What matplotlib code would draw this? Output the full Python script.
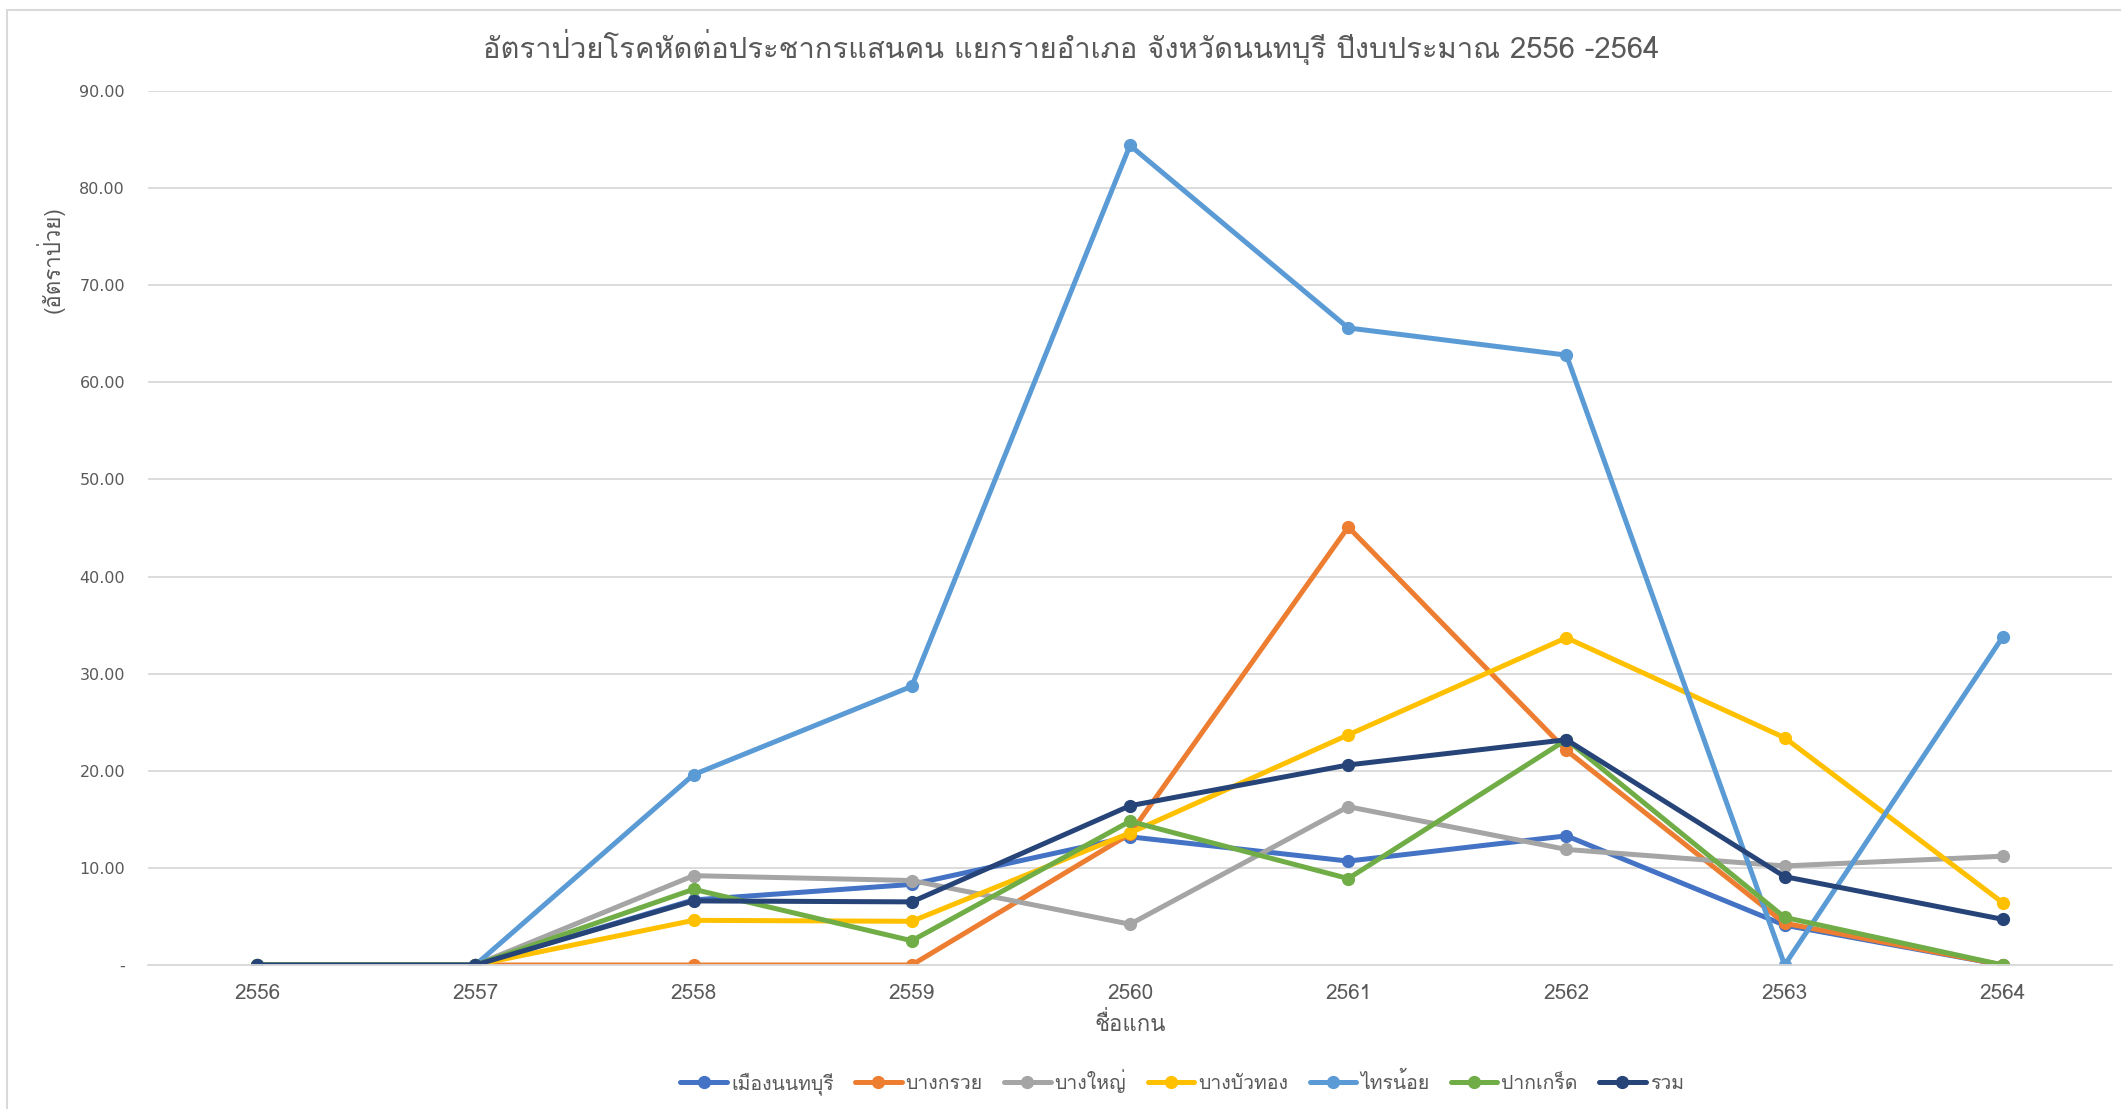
import matplotlib
matplotlib.use("Agg")
import matplotlib.pyplot as plt
from matplotlib import font_manager
from matplotlib.ft2font import FT2Font
from matplotlib.patches import Rectangle

# rates per 100,000 population, fiscal years 2556-2564
years = ["2556", "2557", "2558", "2559", "2560", "2561", "2562", "2563", "2564"]
mueang = [0, 0, 6.7, 8.3, 13.2, 10.7, 13.3, 4.1, 0]
bang_kruai = [0, 0, 0, 0, 13.5, 45.1, 22.1, 4.3, 0]
bang_yai = [0, 0, 9.2, 8.7, 4.2, 16.3, 11.9, 10.2, 11.2]
bang_bua_thong = [0, 0, 4.6, 4.5, 13.6, 23.7, 33.7, 23.4, 6.4]
sai_noi = [0, 0, 19.6, 28.7, 84.4, 65.6, 62.8, 0, 33.8]
pak_kret = [0, 0, 7.8, 2.5, 14.8, 8.9, 23.2, 4.9, 0]
total = [0, 0, 6.6, 6.5, 16.4, 20.6, 23.2, 9.1, 4.7]

names = ["เมืองนนทบุรี", "บางกรวย", "บางใหญ่", "บางบัวทอง", "ไทรน้อย", "ปากเกร็ด", "รวม"]
series = [mueang, bang_kruai, bang_yai, bang_bua_thong, sai_noi, pak_kret, total]
colors = ["#4472C4", "#ED7D31", "#A5A5A5", "#FFC000", "#5B9BD5", "#70AD47", "#264478"]

title = "อัตราป่วยโรคหัดต่อประชากรแสนคน แยกรายอำเภอ จังหวัดนนทบุรี ปีงบประมาณ 2556 -2564"


def thai_font():
    for f in font_manager.fontManager.ttflist:
        try:
            if 0x0E01 in FT2Font(f.fname).get_charmap():
                return f.name
        except Exception:
            pass
    return "DejaVu Sans"


thai = thai_font()
plt.rcParams["font.family"] = [thai, "DejaVu Sans"]

fig = plt.figure(figsize=(21.21, 11.09), dpi=100)
ax = fig.add_axes([148 / 2121, 1 - 965 / 1109, 1964 / 2121, 874 / 1109])

x = list(range(len(years)))
for vals, name, c in zip(series, names, colors):
    ax.plot(x, vals, color=c, lw=3.6, marker="o", ms=8.5, label=name,
            solid_capstyle="round", solid_joinstyle="round")

ax.set_xlim(-0.5, len(years) - 0.5)
ax.set_ylim(0, 90)
ax.set_yticks(range(0, 91, 10))
ax.set_yticklabels(["-"] + [f"{v:.2f}" for v in range(10, 91, 10)],
                   family="DejaVu Sans")
ax.set_xticks(x)
ax.set_xticklabels(years)
ax.tick_params(axis="both", length=0, colors="#595959")
ax.tick_params(axis="x", pad=14, labelsize=15)
ax.tick_params(axis="y", pad=16.5, labelsize=11.5)
ax.grid(axis="y", color="#D9D9D9", lw=1.3)
ax.set_axisbelow(True)
for s in ["top", "right", "left"]:
    ax.spines[s].set_visible(False)
ax.spines["bottom"].set_color("#D9D9D9")
ax.spines["bottom"].set_linewidth(1.3)

ax.set_xlabel("ชื่อแกน", fontsize=16, color="#595959", labelpad=6)
fig.text(50 / 2121, 1 - 260 / 1109, "(อัตราป่วย)", rotation=90, fontsize=16,
         color="#595959", ha="center", va="center")
fig.text(0.505, 1 - 47 / 1109, title, fontsize=21, color="#595959",
         ha="center", va="center")

fig.legend(loc="center", bbox_to_anchor=(1182 / 2121, 1 - 1082 / 1109), ncol=7,
           frameon=False, fontsize=14, labelcolor="#595959", handlelength=2.4,
           handletextpad=0.2, columnspacing=1.1)

fig.patches.append(Rectangle((7 / 2121, -0.1), 1.2, 1 - 10 / 1109 + 0.1,
                             transform=fig.transFigure, fill=False,
                             edgecolor="#D9D9D9", lw=1.5))

fig.savefig("out.png", dpi=100)
